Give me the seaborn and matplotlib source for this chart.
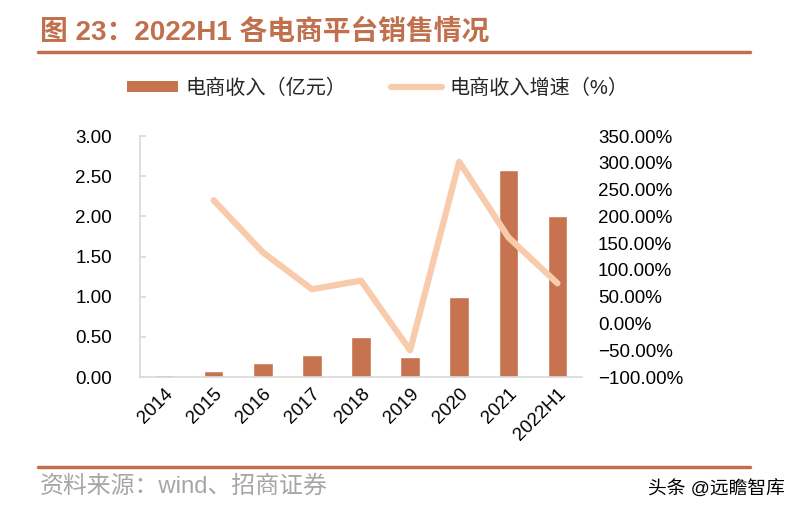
import numpy as np
import pandas as pd
import matplotlib
matplotlib.use("Agg")
import matplotlib.pyplot as plt
import seaborn as sns
from matplotlib.patches import Patch
from matplotlib.lines import Line2D
from matplotlib.ticker import FuncFormatter, MultipleLocator

categories = ["2014", "2015", "2016", "2017", "2018", "2019", "2020", "2021", "2022H1"]
revenue = [0.02, 0.07, 0.17, 0.28, 0.50, 0.25, 1.00, 2.58, 2.01]
growth = [np.nan, 230.0, 133.0, 64.0, 80.0, -50.0, 302.0, 161.0, 75.0]

title_text = "图 23：2022H1 各电商平台销售情况"
bar_label = "电商收入（亿元）"
line_label = "电商收入增速（%）"
source_text = "资料来源：wind、招商证券"
watermark = "头条 @远瞻智库"

BAR_C = "#C7734F"
LINE_C = "#F8CBAD"
TITLE_C = "#C0704D"
AXIS_C = "#D9D9D9"

sns.set_theme(style="white")
plt.rcParams["font.family"] = ["Liberation Sans", "Noto Sans CJK SC", "DejaVu Sans"]
plt.rcParams["axes.unicode_minus"] = True

fig = plt.figure(figsize=(8.0, 5.13), dpi=100)
ax = fig.add_axes([0.175, 0.265, 0.5525, 0.4698])

df = pd.DataFrame({"cat": categories, "rev": revenue, "growth": growth})
df["pos"] = np.arange(len(df))

sns.barplot(data=df, x="cat", y="rev", color=BAR_C, width=0.4, saturation=1,
            ax=ax, order=categories)
ax.set_xlim(-0.5, len(categories) - 0.5)
ax.set_ylim(0, 3.0)
ax.yaxis.set_major_locator(MultipleLocator(0.5))
ax.yaxis.set_major_formatter(FuncFormatter(lambda v, p: f"{v:.2f}"))
ax.set_xlabel("")
ax.set_ylabel("")
for s in ["top", "right"]:
    ax.spines[s].set_visible(False)
for s in ["left", "bottom"]:
    ax.spines[s].set_color(AXIS_C)
    ax.spines[s].set_linewidth(1.2)
ax.tick_params(axis="y", direction="in", length=4.5, width=1.2, color=AXIS_C,
               pad=20, labelsize=13.5, labelcolor="black")
ax.tick_params(axis="x", length=0, pad=6, labelsize=13.5, labelcolor="black")
for lab in ax.get_xticklabels():
    lab.set_rotation(45)
    lab.set_ha("right")
    lab.set_va("top")
    lab.set_rotation_mode("anchor")

ax2 = ax.twinx()
sns.lineplot(data=df, x="pos", y="growth", color=LINE_C, linewidth=4.5, ax=ax2,
             solid_capstyle="round", solid_joinstyle="round")
ax2.set_xlim(-0.5, len(categories) - 0.5)
ax2.set_ylim(-100, 350)
ax2.yaxis.set_major_locator(MultipleLocator(50))
ax2.yaxis.set_major_formatter(FuncFormatter(lambda v, p: f"{v:.2f}%".replace("-", "\u2212")))
ax2.set_ylabel("")
ax2.set_xlabel("")
for s in ax2.spines.values():
    s.set_visible(False)
ax2.tick_params(axis="y", length=0, pad=11.5, labelsize=13.5, labelcolor="black")
ax2.grid(False)
ax.grid(False)

# title and rules
fig.text(40 / 800, 1 - 32 / 513, title_text, fontsize=20, fontweight="bold",
         color=TITLE_C, ha="left", va="center")
fig.add_artist(Line2D([38 / 800, 750 / 800], [1 - 52 / 513, 1 - 52 / 513],
                      color=TITLE_C, linewidth=2.5))
fig.add_artist(Line2D([38 / 800, 750 / 800], [1 - 467 / 513, 1 - 467 / 513],
                      color=TITLE_C, linewidth=2.5))
fig.text(40 / 800, 1 - 487 / 513, source_text, fontsize=17.2, color="#A6A6A6",
         ha="left", va="center")
fig.text(785 / 800, 1 - 490 / 513, watermark, fontsize=13.5, color="black",
         ha="right", va="center")

handles = [Patch(facecolor=BAR_C, edgecolor="none"),
           Line2D([0], [0], color=LINE_C, linewidth=4.5, solid_capstyle="round")]
fig.legend(handles, [bar_label, line_label], loc="center", ncol=2,
           bbox_to_anchor=(0.4725, 1 - 88 / 513), frameon=False, fontsize=14.5,
           handlelength=2.5, handleheight=0.5, handletextpad=0.4,
           columnspacing=2.2)

fig.savefig("out.png", dpi=100)
